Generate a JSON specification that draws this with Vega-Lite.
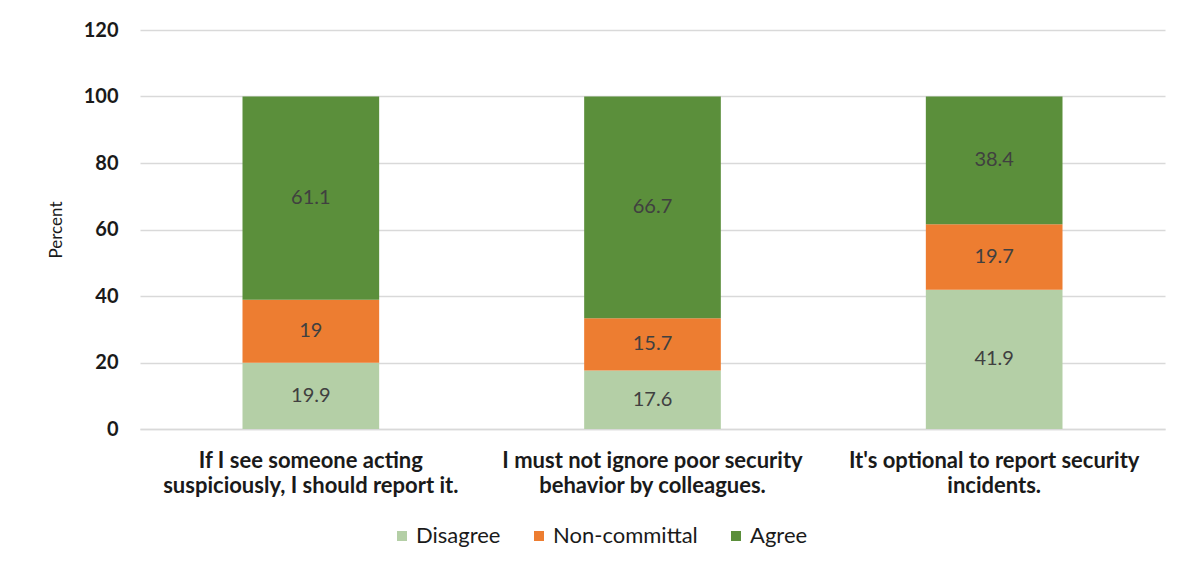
{
  "$schema": "https://vega.github.io/schema/vega-lite/v6.json",
  "width": 1025,
  "height": 399,
  "autosize": {"type": "none"},
  "padding": {"left": 140, "top": 30, "right": 21, "bottom": 143},
  "background": "white",
  "config": {"view": {"stroke": null}},
  "data": {
    "values": [
      {"statement": "If I see someone acting suspiciously, I should report it.", "response": "Disagree", "ord": 1, "percent": 19.9},
      {"statement": "If I see someone acting suspiciously, I should report it.", "response": "Non-committal", "ord": 2, "percent": 19},
      {"statement": "If I see someone acting suspiciously, I should report it.", "response": "Agree", "ord": 3, "percent": 61.1},
      {"statement": "I must not ignore poor security behavior by colleagues.", "response": "Disagree", "ord": 1, "percent": 17.6},
      {"statement": "I must not ignore poor security behavior by colleagues.", "response": "Non-committal", "ord": 2, "percent": 15.7},
      {"statement": "I must not ignore poor security behavior by colleagues.", "response": "Agree", "ord": 3, "percent": 66.7},
      {"statement": "It's optional to report security incidents.", "response": "Disagree", "ord": 1, "percent": 41.9},
      {"statement": "It's optional to report security incidents.", "response": "Non-committal", "ord": 2, "percent": 19.7},
      {"statement": "It's optional to report security incidents.", "response": "Agree", "ord": 3, "percent": 38.4}
    ]
  },
  "transform": [
    {"stack": "percent", "groupby": ["statement"], "sort": [{"field": "ord", "order": "ascending"}], "as": ["y0", "y1"]},
    {"calculate": "(datum.y0 + datum.y1) / 2", "as": "ymid"}
  ],
  "encoding": {
    "x": {
      "field": "statement",
      "type": "nominal",
      "sort": null,
      "scale": {"paddingInner": 0.6, "paddingOuter": 0.3},
      "axis": {
        "title": null,
        "labelAngle": 0,
        "labelFont": "Lato",
        "labelFontSize": 22,
        "labelFontWeight": "bold",
        "labelColor": "#1a1a1a",
        "labelPadding": 21,
        "labelLineHeight": 25,
        "labelLimit": 400,
        "ticks": false,
        "domain": true,
        "domainColor": "#d9d9d9",
        "domainWidth": 1.5,
        "labelExpr": "datum.label == 'If I see someone acting suspiciously, I should report it.' ? ['If I see someone acting', 'suspiciously, I should report it.'] : datum.label == 'I must not ignore poor security behavior by colleagues.' ? ['I must not ignore poor security', 'behavior by colleagues.'] : ['It\\'s optional to report security', 'incidents.']"
      }
    }
  },
  "layer": [
    {
      "mark": {"type": "bar"},
      "encoding": {
        "y": {
          "field": "y0",
          "type": "quantitative",
          "scale": {"domain": [0, 120]},
          "axis": {
            "title": "Percent",
            "titleFont": "Lato",
            "titleFontSize": 17,
            "titleFontWeight": "normal",
            "titleColor": "#1a1a1a",
            "titlePadding": 18,
            "values": [0, 20, 40, 60, 80, 100, 120],
            "labelFont": "Lato",
            "labelFontSize": 20,
            "labelFontWeight": "bold",
            "labelColor": "#1a1a1a",
            "labelPadding": 22,
            "ticks": false,
            "domain": false,
            "grid": true,
            "gridColor": "#d9d9d9",
            "gridWidth": 1.5
          }
        },
        "y2": {"field": "y1"},
        "color": {
          "field": "response",
          "type": "nominal",
          "scale": {
            "domain": ["Disagree", "Non-committal", "Agree"],
            "range": ["#b4cfa6", "#ed7d31", "#5b8f3b"]
          },
          "legend": {
            "title": null,
            "orient": "none",
            "direction": "horizontal",
            "legendX": 251,
            "legendY": 495,
            "symbolType": "square",
            "symbolSize": 100,
            "symbolStrokeWidth": 0,
            "labelFont": "Lato",
            "labelFontSize": 22,
            "labelColor": "#1a1a1a",
            "labelOffset": 3,
            "columnPadding": 27
          }
        }
      }
    },
    {
      "mark": {"type": "text", "font": "Lato", "fontSize": 20, "color": "#404040"},
      "encoding": {
        "y": {"field": "ymid", "type": "quantitative"},
        "text": {"field": "percent", "type": "quantitative"}
      }
    }
  ]
}
